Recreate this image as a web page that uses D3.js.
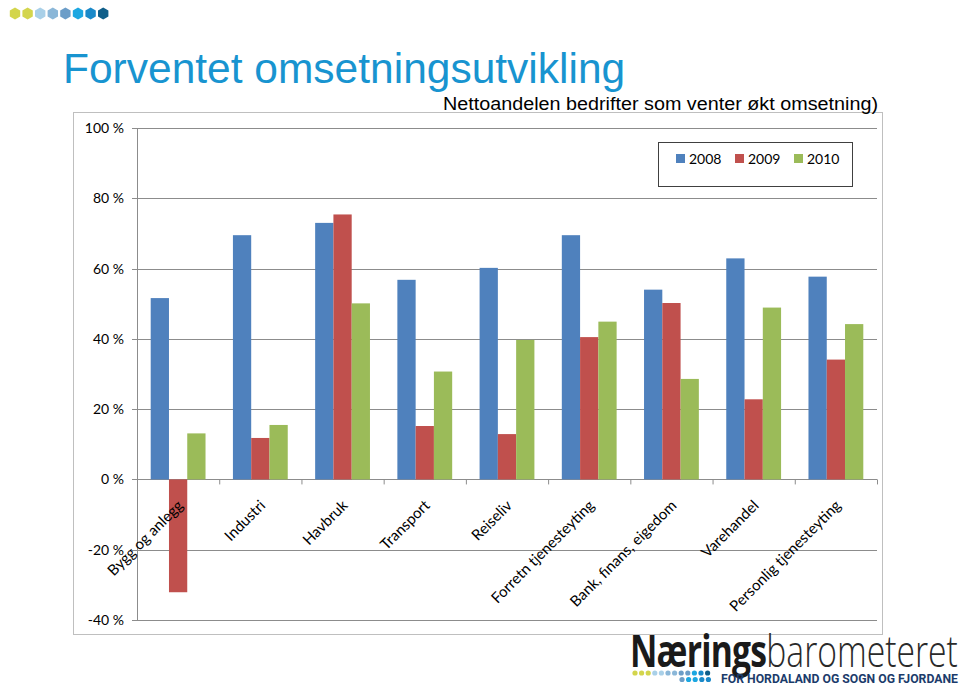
<!DOCTYPE html>
<html><head><meta charset="utf-8">
<script src="https://cdn.jsdelivr.net/npm/d3@7"></script>
<style>body{margin:0;background:#fff}svg{display:block}</style>
</head><body><svg id="c" width="960" height="686"></svg>
<script>
const categories = ["Bygg og anlegg","Industri","Havbruk","Transport","Reiseliv","Forretn tjenesteyting","Bank, finans, eigedom","Varehandel","Personlig tjenesteyting"];
const seriesNames = ["2008","2009","2010"];
const values2008 = [51.6,69.5,73.0,56.8,60.2,69.5,54.0,62.9,57.7];
const values2009 = [-32.1,11.8,75.4,15.2,12.9,40.5,50.2,22.8,34.1];
const values2010 = [13.1,15.5,50.1,30.7,39.7,44.9,28.6,48.9,44.2];
const yTicks = [-40,-20,0,20,40,60,80,100];
const colors = ["#4f81bd","#c0504d","#9bbb59"];
const headerDotColors = ["#d3d54c","#d3d54c","#a9d0e8","#8bb7d8","#6b9dc8","#1ca7e1","#1a89c9","#0f5e89"];

const svg = d3.select("#c");
const font = "Lato, 'Open Sans', sans-serif";

// header dots (hexagons)
const hex = (cx,cy,r)=>d3.range(6).map(i=>{const a=Math.PI/3*i+Math.PI/6;return [cx+r*Math.cos(a),cy+r*Math.sin(a)];});
headerDotColors.forEach((c,i)=>{
  svg.append("polygon").attr("points",hex(15+i*12.6,13.5,6).map(p=>p.join(",")).join(" ")).attr("fill",c);
});

// title
svg.append("text").attr("x",63).attr("y",83).attr("font-family","'Liberation Sans', Arial, sans-serif")
  .attr("font-size",42.5).attr("fill","#1894d0").text("Forventet omsetningsutvikling");

// frame
svg.append("rect").attr("x",73.5).attr("y",112.5).attr("width",809).attr("height",522).attr("fill","none").attr("stroke","#bfbfbf");

svg.append("text").attr("x",443).attr("y",110).attr("font-family","'Liberation Sans', Arial, sans-serif")
  .attr("font-size",17.5).attr("fill","#000").attr("textLength",435).attr("lengthAdjust","spacingAndGlyphs")
  .text("Nettoandelen bedrifter som venter økt omsetning)");

const x0 = 137, x1 = 877;
const y = d3.scaleLinear().domain([-40,100]).range([620,128]);
const x = d3.scaleBand().domain(categories).range([x0,x1]).paddingInner(0).paddingOuter(0);
const inner = d3.scaleBand().domain(seriesNames).range([0,x.bandwidth()]).paddingInner(0).paddingOuter(0.75);

// gridlines
const g = svg.append("g");
g.selectAll("line.grid").data(yTicks).join("line").attr("class","grid")
  .attr("x1",x0-5).attr("x2",x1).attr("y1",d=>Math.round(y(d))+0.5).attr("y2",d=>Math.round(y(d))+0.5)
  .attr("stroke","#8c8c8c").attr("stroke-width",1);
g.append("line").attr("x1",x0+0.5).attr("x2",x0+0.5).attr("y1",y(100)).attr("y2",y(-40)).attr("stroke","#8c8c8c");
g.selectAll("text.yt").data(yTicks).join("text").attr("class","yt")
  .attr("x",124).attr("y",d=>y(d)+5).attr("text-anchor","end").attr("font-family",font).attr("font-size",14)
  .attr("fill","#000").text(d=>d+" %");

// bars
const data = [values2008,values2009,values2010];
seriesNames.forEach((s,si)=>{
  svg.append("g").selectAll("rect").data(categories).join("rect")
    .attr("x",(c)=>x(c)+inner(s)).attr("width",inner.bandwidth())
    .attr("y",(c,i)=>y(Math.max(0,data[si][i]))).attr("height",(c,i)=>Math.abs(y(data[si][i])-y(0)))
    .attr("fill",colors[si]);
});

// x axis ticks
g.selectAll("line.xt").data(d3.range(categories.length+1)).join("line").attr("class","xt")
  .attr("x1",i=>x0+i*x.bandwidth()+0.5).attr("x2",i=>x0+i*x.bandwidth()+0.5).attr("y1",y(0)).attr("y2",y(0)+5).attr("stroke","#8c8c8c");

// x labels
svg.append("g").selectAll("text").data(categories).join("text")
  .attr("transform",c=>`translate(${x(c)+x.bandwidth()/2+6},${y(0)+27}) rotate(-45)`)
  .attr("text-anchor","end").attr("font-family",font).attr("font-size",15).attr("fill","#000").text(c=>c);

// legend
const lg = svg.append("g");
lg.append("rect").attr("x",658.5).attr("y",142.5).attr("width",194).attr("height",44).attr("fill","#fff").attr("stroke","#404040");
seriesNames.forEach((s,i)=>{
  const lx = 676 + i*59;
  lg.append("rect").attr("x",lx).attr("y",154).attr("width",9).attr("height",9).attr("fill",colors[i]);
  lg.append("text").attr("x",lx+13).attr("y",163.5).attr("font-family",font).attr("font-size",14).attr("fill","#000").text(s);
});

// logo
const logo = svg.append("g");
const lt = logo.append("text").attr("x",0).attr("y",0).attr("font-family","'Open Sans', 'DejaVu Sans', sans-serif").attr("font-size",44).attr("fill","#1a1a1a");
lt.append("tspan").attr("font-weight","bold").attr("letter-spacing","-1").text("Nærings");
lt.append("tspan").attr("font-weight","300").attr("fill","#2a2a2a").text("barometeret");
const w = lt.node().getComputedTextLength();
lt.attr("transform",`translate(630,667) scale(${328/w},1)`);
const logoDots = ["#d3d54c","#d3d54c","#d3d54c","#a9d0e8","#a9d0e8","#8bb7d8","#8bb7d8","#6b9dc8","#6b9dc8","#1ca7e1","#1a89c9","#0f5e89"];
logoDots.forEach((c,i)=>{
  logo.append("circle").attr("cx",635+i*6.6).attr("cy",673).attr("r",2.6).attr("fill",c);
});
["#6b9dc8","#1ca7e1","#1ca7e1","#1a89c9","#1a89c9"].forEach((c,i)=>{
  logo.append("circle").attr("cx",682+i*6.6).attr("cy",679.5).attr("r",2.6).attr("fill",c);
});
logo.append("text").attr("x",721).attr("y",683).attr("font-family","'Roboto', 'DejaVu Sans', sans-serif").attr("font-weight","bold")
  .attr("font-size",12).attr("fill","#1b3b6b").attr("textLength",237).attr("lengthAdjust","spacingAndGlyphs").text("FOR HORDALAND OG SOGN OG FJORDANE");
</script></body></html>
